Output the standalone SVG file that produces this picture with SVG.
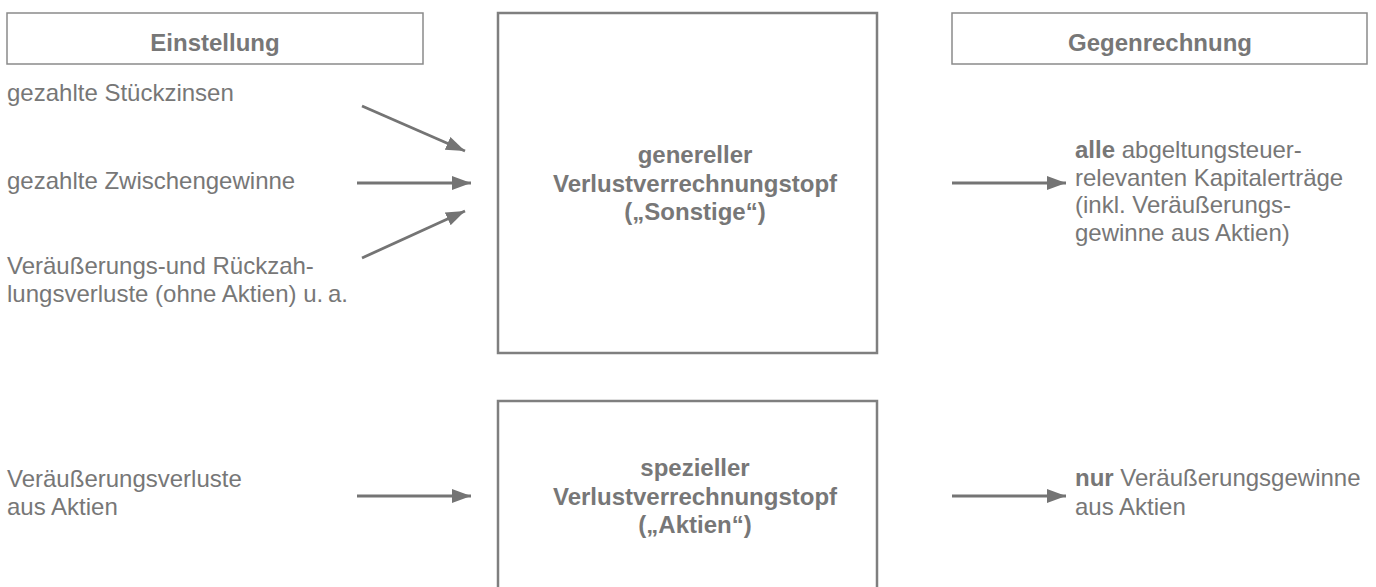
<svg xmlns="http://www.w3.org/2000/svg" width="1376" height="587" viewBox="0 0 1376 587">
<style>
text{font-family:"Liberation Sans",Arial,sans-serif;font-size:24px;fill:#777777}
.b{font-weight:bold}
.c{text-anchor:middle}
.hdr{fill:#ffffff;stroke:#8a8a8a;stroke-width:1.5}
.pot{fill:#ffffff;stroke:#7f7f7f;stroke-width:2.5}
.arr{stroke:#747474;stroke-width:2.8;fill:none;marker-end:url(#ah)}
</style>
<defs>
<marker id="ah" markerUnits="userSpaceOnUse" markerWidth="22" markerHeight="16" refX="19" refY="7" orient="auto">
<path d="M0,0 L19,7 L0,14 z" fill="#747474"/>
</marker>
</defs>
<rect width="1376" height="587" fill="#ffffff"/>
<g id="hdr-einstellung">
<rect class="hdr" x="7" y="13" width="416" height="51"/>
<text class="b c" x="215" y="51">Einstellung</text>
</g>
<g id="hdr-gegenrechnung">
<rect class="hdr" x="952" y="13" width="415" height="51"/>
<text class="b c" x="1160" y="51">Gegenrechnung</text>
</g>
<g id="in-stueckzinsen"><text x="7" y="101">gezahlte Stückzinsen</text></g>
<g id="in-zwischengewinne"><text x="7" y="189">gezahlte Zwischengewinne</text></g>
<g id="in-verluste"><text x="7" y="274">Veräußerungs-und Rückzah-</text><text x="7" y="302">lungsverluste (ohne Aktien) u.&#8201;a.</text></g>
<g id="pot-sonstige">
<rect class="pot" x="498" y="13" width="379" height="340"/>
<text class="b c" x="695" y="163">genereller</text>
<text class="b c" x="695" y="192">Verlustverrechnungstopf</text>
<text class="b c" x="695" y="220">(„Sonstige“)</text>
</g>
<g id="out-alle">
<text x="1075" y="158"><tspan class="b">alle</tspan> abgeltungsteuer-</text>
<text x="1075" y="186">relevanten Kapitalerträge</text>
<text x="1075" y="213">(inkl. Veräußerungs-</text>
<text x="1075" y="241">gewinne aus Aktien)</text>
</g>
<g id="in-aktien"><text x="7" y="487">Veräußerungsverluste</text><text x="7" y="515">aus Aktien</text></g>
<g id="pot-aktien">
<rect class="pot" x="498" y="401" width="379" height="220"/>
<text class="b c" x="695" y="476">spezieller</text>
<text class="b c" x="695" y="505">Verlustverrechnungstopf</text>
<text class="b c" x="695" y="533">(„Aktien“)</text>
</g>
<g id="out-nur">
<text x="1075" y="486"><tspan class="b">nur</tspan> Veräußerungsgewinne</text>
<text x="1075" y="515">aus Aktien</text>
</g>
<g id="connectors">
<line class="arr" x1="362" y1="106" x2="465" y2="151"/>
<line class="arr" x1="357" y1="183" x2="471" y2="183"/>
<line class="arr" x1="362" y1="258" x2="465" y2="211"/>
<line class="arr" x1="952" y1="183" x2="1066" y2="183"/>
<line class="arr" x1="357" y1="496" x2="471" y2="496"/>
<line class="arr" x1="952" y1="496" x2="1066" y2="496"/>
</g>
</svg>
